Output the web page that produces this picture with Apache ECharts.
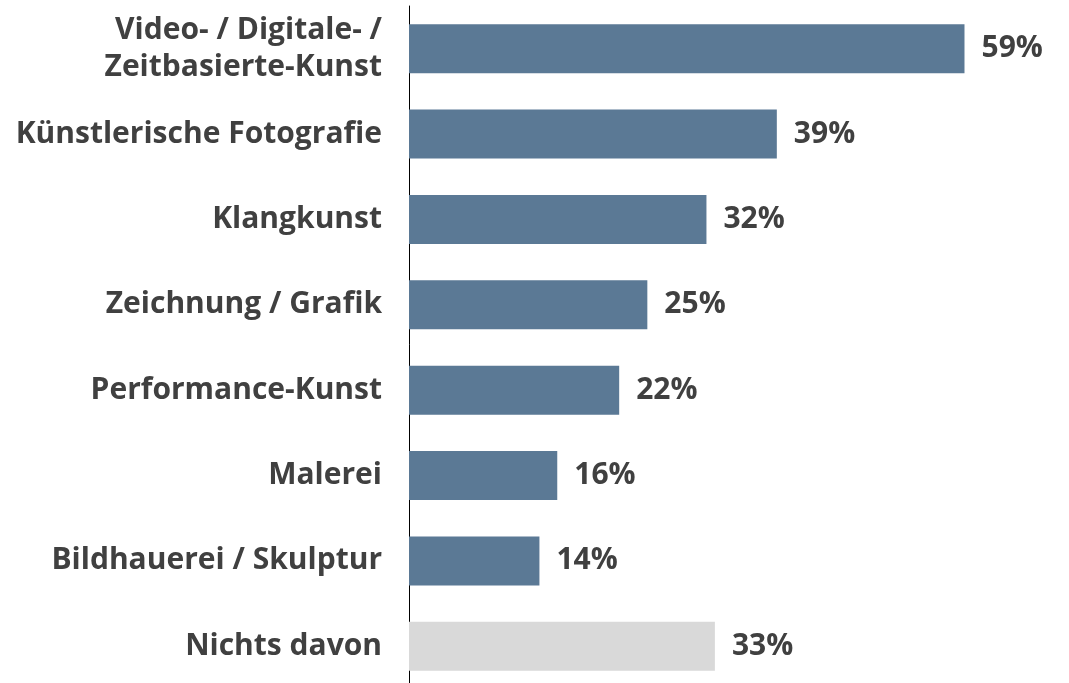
<!DOCTYPE html>
<html>
<head>
<meta charset="utf-8">
<script src="https://cdn.jsdelivr.net/npm/echarts@6/dist/echarts.min.js"></script>
<style>
  html, body { margin: 0; padding: 0; background: #fff; }
  #balken { width: 1069px; height: 683px; }
</style>
</head>
<body>
<div id="balken"></div>
<script>
// Kategorien (von oben nach unten)
const kategorien = [
    'Video- / Digitale- /\nZeitbasierte-Kunst',
    'Künstlerische Fotografie',
    'Klangkunst',
    'Zeichnung / Grafik',
    'Performance-Kunst',
    'Malerei',
    'Bildhauerei / Skulptur',
    'Nichts davon'
];
// Anteile in %, aus den Balkenlängen geschätzt (Beschriftung gerundet)
const anteile = [59.2, 39.2, 31.7, 25.4, 22.4, 15.8, 13.9, 32.6];
const farben = ['#5b7995', '#5b7995', '#5b7995', '#5b7995', '#5b7995', '#5b7995', '#5b7995', '#d9d9d9'];

const schrift = '"Open Sans", "Noto Sans", sans-serif';
const chart = echarts.init(document.getElementById('balken'), null, { renderer: 'canvas' });

const option = {
    animation: false,
    grid: {
        left: 409,
        width: 563,
        top: 6,
        height: 683,
        outerBoundsMode: 'none',
        containLabel: false
    },
    xAxis: {
        type: 'value',
        min: 0,
        max: 60,
        show: false
    },
    yAxis: {
        type: 'category',
        inverse: true,
        data: kategorien,
        axisLine: { show: true, lineStyle: { color: '#000', width: 1 } },
        axisTick: { show: false },
        axisLabel: {
            margin: 27,
            padding: [5, 0, 0, 0],
            color: '#404040',
            fontFamily: schrift,
            fontWeight: 'bold',
            fontSize: 30,
            lineHeight: 37
        }
    },
    series: [
        {
            type: 'bar',
            barWidth: 49,
            data: anteile.map((v, i) => ({ value: v, itemStyle: { color: farben[i] } })),
            label: {
                show: true,
                position: 'right',
                distance: 17,
                padding: [5, 0, 0, 0],
                formatter: (p) => Math.round(p.value) + '%',
                color: '#404040',
                fontFamily: schrift,
                fontWeight: 'bold',
                fontSize: 30
            }
        }
    ]
};

chart.setOption(option);
</script>
</body>
</html>
